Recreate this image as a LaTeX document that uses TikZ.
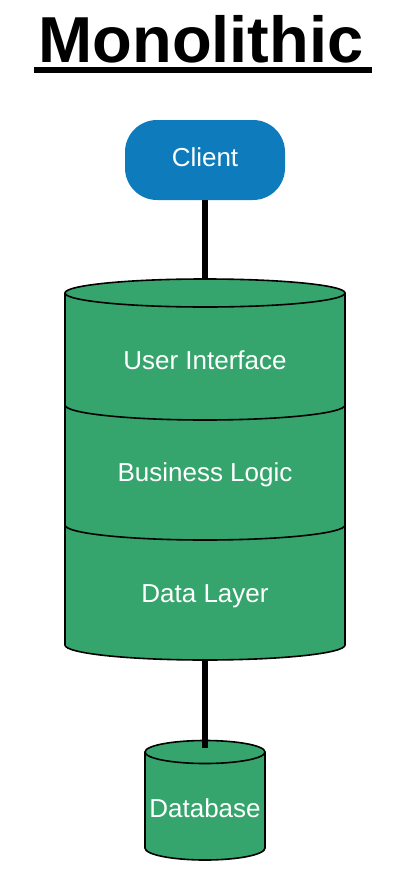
\documentclass[tikz,border=0pt]{standalone}
\usepackage{fontspec}
\setmainfont{Liberation Sans}
\definecolor{cgreen}{RGB}{54,165,109}
\definecolor{cblue}{RGB}{14,123,189}
\begin{document}
\begin{tikzpicture}[x=1pt,y=1pt,
  lbl/.style={text=white,font=\fontsize{26}{30}\selectfont,inner sep=0pt},
  edge/.style={line width=6.5pt},
  outline/.style={draw=black,line width=1.6pt}]
\useasboundingbox (0,0) rectangle (405,-878);
% title
\node[font=\bfseries\fontsize{65}{72}\selectfont,inner sep=0pt,anchor=base] (title) at (201,-62) {Monolithic};
\draw[line width=6pt] (34,-70) -- (372,-70);
% client
\node[fill=cblue,rounded corners=32pt,minimum width=160pt,minimum height=80pt,inner sep=0pt] (client) at (205,-160) {};
\node[lbl] (clienttext) at (205,-157) {Client};
% main cylinder
\fill[cgreen] (65,-293) -- (65,-645) arc[start angle=180,end angle=360,x radius=140pt,y radius=15pt] -- (345,-293) arc[start angle=0,end angle=180,x radius=140pt,y radius=14pt] -- cycle;
\draw[outline] (65,-293) -- (65,-645) arc[start angle=180,end angle=360,x radius=140pt,y radius=15pt] -- (345,-293);
\draw[outline] (205,-293) ellipse[x radius=140pt,y radius=14pt];
\draw[outline] (65,-405) arc[start angle=180,end angle=360,x radius=140pt,y radius=15pt];
\draw[outline] (65,-525) arc[start angle=180,end angle=360,x radius=140pt,y radius=15pt];
\node[lbl] (ui) at (205,-360) {User Interface};
\node[lbl] (bl) at (205,-475) {Business Logic};
\node[lbl] (dl) at (205,-596) {Data Layer};
\coordinate (mtop) at (205,-279);
\coordinate (mbot) at (205,-660);
% database cylinder
\fill[cgreen] (145,-752) -- (145,-848) arc[start angle=180,end angle=360,x radius=60pt,y radius=12pt] -- (265,-752) arc[start angle=0,end angle=180,x radius=60pt,y radius=11.5pt] -- cycle;
\draw[outline] (145,-752) -- (145,-848) arc[start angle=180,end angle=360,x radius=60pt,y radius=12pt] -- (265,-752);
\draw[outline] (205,-752) ellipse[x radius=60pt,y radius=11.5pt];
\node[lbl] (db) at (205,-808) {Database};
\coordinate (dbtop) at (205,-748);
% connectors
\draw[edge] (client.south) -- (mtop);
\draw[edge] (mbot) -- (dbtop);
\end{tikzpicture}
\end{document}
